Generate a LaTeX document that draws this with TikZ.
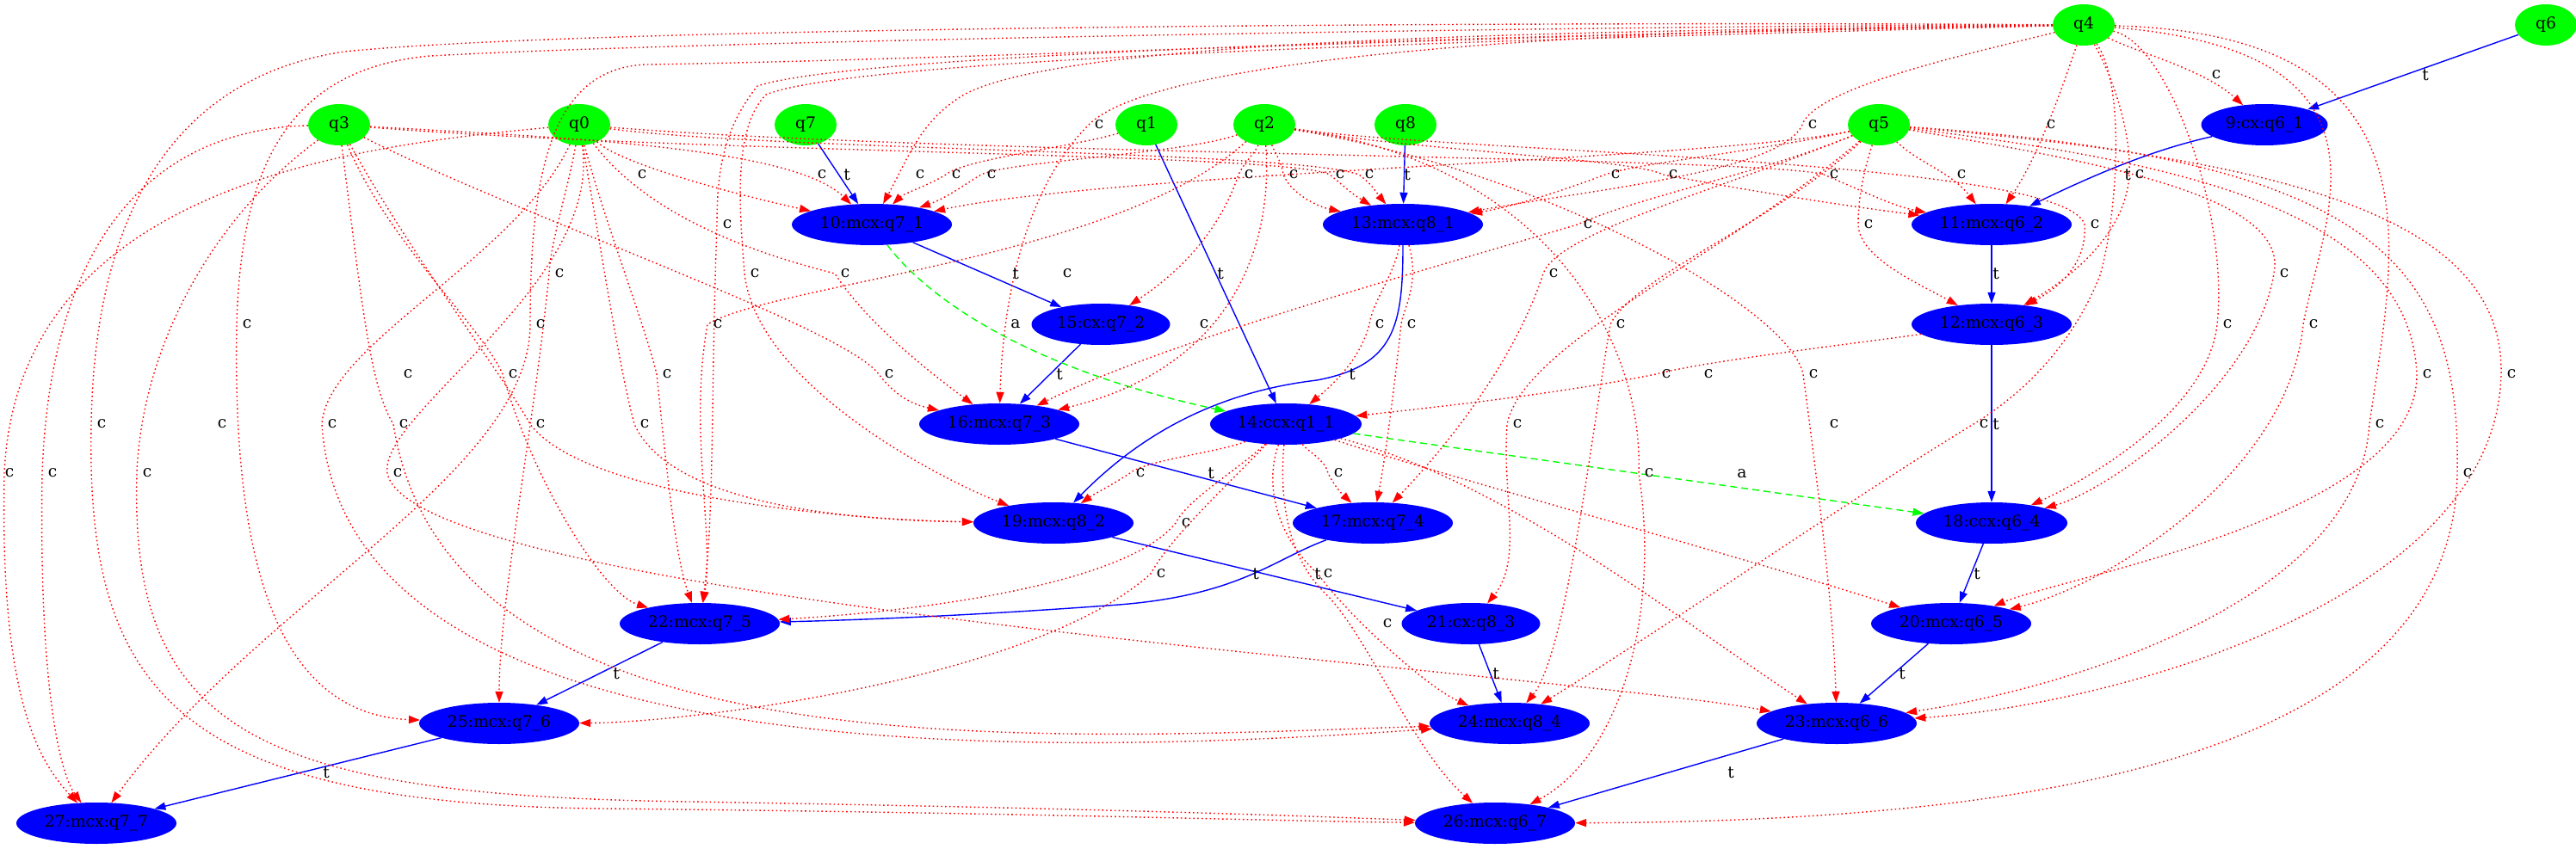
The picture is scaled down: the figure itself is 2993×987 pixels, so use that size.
\documentclass[tikz,border=0pt]{standalone}
\usepackage{fontspec}
\setmainfont{DejaVu Serif}
\usetikzlibrary{shapes.geometric,arrows.meta}
\begin{document}
\begin{tikzpicture}[x=1pt,y=1pt,
  lbl/.style={font=\fontsize{18.67}{22}\selectfont, inner sep=0pt},
  gnode/.style={ellipse, fill=green, draw=none, minimum width=72pt, minimum height=48pt, inner sep=0pt, font=\fontsize{18.67}{22}\selectfont},
  bnode/.style={ellipse, fill=blue, draw=none, minimum height=48pt, inner sep=0pt, font=\fontsize{18.67}{22}\selectfont},
  ce/.style={red, line width=1.4pt, dash pattern=on 1.6pt off 3.2pt, -{Triangle[length=13pt,width=9pt]}},
  te/.style={blue, line width=1.4pt, -{Triangle[length=13pt,width=9pt]}},
  ae/.style={green, line width=1.4pt, dash pattern=on 8pt off 5pt, -{Triangle[length=13pt,width=9pt]}}]
\useasboundingbox (0,0) rectangle (2993,-987);
% nodes
\node[gnode] (q4) at (2421,-29) {q4};
\node[gnode] (q6) at (2958,-29) {q6};
\node[gnode] (q3) at (394,-145) {q3};
\node[gnode] (q0) at (673,-145) {q0};
\node[gnode] (q7) at (936,-145) {q7};
\node[gnode] (q1) at (1332,-145) {q1};
\node[gnode] (q2) at (1469,-145) {q2};
\node[gnode] (q8) at (1633,-145) {q8};
\node[gnode] (q5) at (2183,-145) {q5};
\node[bnode,minimum width=147pt] (n9) at (2631,-145) {9:cx:q6\_1};
\node[bnode,minimum width=186pt] (n10) at (1013,-261) {10:mcx:q7\_1};
\node[bnode,minimum width=186pt] (n13) at (1630,-261) {13:mcx:q8\_1};
\node[bnode,minimum width=186pt] (n11) at (2314,-261) {11:mcx:q6\_2};
\node[bnode,minimum width=161pt] (n15) at (1279,-377) {15:cx:q7\_2};
\node[bnode,minimum width=186pt] (n12) at (2314,-377) {12:mcx:q6\_3};
\node[bnode,minimum width=186pt] (n16) at (1161,-493) {16:mcx:q7\_3};
\node[bnode,minimum width=176pt] (n14) at (1494,-493) {14:ccx:q1\_1};
\node[bnode,minimum width=186pt] (n19) at (1224,-608) {19:mcx:q8\_2};
\node[bnode,minimum width=186pt] (n17) at (1595,-608) {17:mcx:q7\_4};
\node[bnode,minimum width=176pt] (n18) at (2314,-608) {18:ccx:q6\_4};
\node[bnode,minimum width=186pt] (n22) at (813,-725) {22:mcx:q7\_5};
\node[bnode,minimum width=161pt] (n21) at (1709,-725) {21:cx:q8\_3};
\node[bnode,minimum width=186pt] (n20) at (2267,-725) {20:mcx:q6\_5};
\node[bnode,minimum width=186pt] (n25) at (580,-841) {25:mcx:q7\_6};
\node[bnode,minimum width=186pt] (n24) at (1754,-841) {24:mcx:q8\_4};
\node[bnode,minimum width=186pt] (n23) at (2134,-841) {23:mcx:q6\_6};
\node[bnode,minimum width=186pt] (n27) at (112,-957) {27:mcx:q7\_7};
\node[bnode,minimum width=186pt] (n26) at (1737,-957) {26:mcx:q6\_7};
% target edges
\draw[te] (q6) -- (n9);
\draw[te] (n9) .. controls (2520,-170) and (2460,-190) .. (n11);
\draw[te] (n11) -- (n12);
\draw[te] (n12) -- (n18);
\draw[te] (n18) -- (n20);
\draw[te] (n20) -- (n23);
\draw[te] (n23) -- (n26);
\draw[te] (q7) -- (n10);
\draw[te] (n10) -- (n15);
\draw[te] (n15) -- (n16);
\draw[te] (n16) -- (n17);
\draw[te] (n17) .. controls (1480,-650) and (1440,-692) .. (1300,-703) .. controls (1100,-718) and (950,-722) .. (n22);
\draw[te] (n22) -- (n25);
\draw[te] (n25) -- (n27);
\draw[te] (q8) -- (n13);
\draw[te] (n13) .. controls (1630,-380) and (1620,-425) .. (1530,-442) .. controls (1420,-455) and (1330,-500) .. (n19);
\draw[te] (n19) -- (n21);
\draw[te] (n21) -- (n24);
\draw[te] (q1) -- (n14);
% anti edges
\draw[ae] (n10) .. controls (1080,-350) and (1200,-430) .. (n14);
\draw[ae] (n14) -- (n18);
% control edges from q4
\draw[ce] (q4) .. controls (2480,-60) and (2560,-80) .. (n9);
\draw[ce] (q4) .. controls (1900,-36) and (1250,-40) .. (1120,-110) .. controls (1070,-140) and (1057,-180) .. (n10);
\draw[ce] (q4) .. controls (2400,-90) and (2370,-180) .. (n11);
\draw[ce] (q4) .. controls (2460,-100) and (2476,-160) .. (2474,-203) .. controls (2470,-270) and (2410,-320) .. (n12);
\draw[ce] (q4) .. controls (2300,-60) and (2110,-100) .. (2094,-145) .. controls (2070,-200) and (1850,-220) .. (n13);
\draw[ce] (q4) .. controls (1900,-32) and (1350,-60) .. (1265,-145) .. controls (1190,-220) and (1165,-350) .. (n16);
\draw[ce] (q4) .. controls (1800,-40) and (1000,-60) .. (880,-100) .. controls (840,-150) and (833,-200) .. (833,-261) .. controls (826,-450) and (830,-600) .. (n22);
\draw[ce] (q4) .. controls (1800,-45) and (1000,-65) .. (890,-110) .. controls (850,-150) and (860,-250) .. (865,-318) .. controls (880,-450) and (1100,-560) .. (n19);
\draw[ce] (q4) .. controls (2470,-100) and (2460,-250) .. (2440,-320) .. controls (2400,-420) and (2330,-470) .. (2293,-493) .. controls (2150,-580) and (1950,-720) .. (n24);
\draw[ce] (q4) .. controls (1800,-30) and (800,-48) .. (500,-65) .. controls (330,-80) and (280,-200) .. (275,-377) .. controls (270,-650) and (320,-830) .. (n25);
\draw[ce] (q4) .. controls (1800,-38) and (1100,-70) .. (750,-75) .. controls (640,-80) and (616,-200) .. (616,-377) .. controls (616,-550) and (300,-700) .. (n27);
\draw[ce] (q4) .. controls (1800,-25) and (700,-30) .. (400,-60) .. controls (200,-90) and (110,-250) .. (106,-493) .. controls (100,-800) and (200,-935) .. (700,-940) .. controls (1200,-945) and (1500,-955) .. (n26);
\draw[ce] (q4) .. controls (2520,-50) and (2590,-250) .. (2576,-377) .. controls (2565,-480) and (2420,-560) .. (n18);
\draw[ce] (q4) .. controls (2800,-60) and (2700,-250) .. (2676,-377) .. controls (2660,-550) and (2450,-680) .. (n20);
\draw[ce] (q4) .. controls (2850,-40) and (2780,-300) .. (2753,-493) .. controls (2740,-700) and (2400,-800) .. (n23);
% from q5
\draw[ce] (q5) .. controls (2000,-185) and (1300,-200) .. (n10);
\draw[ce] (q5) .. controls (2230,-190) and (2267,-200) .. (n11);
\draw[ce] (q5) .. controls (2165,-200) and (2159,-230) .. (2159,-261) .. controls (2160,-300) and (2230,-330) .. (n12);
\draw[ce] (q5) .. controls (2050,-175) and (1900,-190) .. (1865,-203) .. controls (1820,-220) and (1760,-240) .. (n13);
\draw[ce] (q5) .. controls (2050,-200) and (1900,-230) .. (1833,-261) .. controls (1600,-330) and (1350,-400) .. (n16);
\draw[ce] (q5) .. controls (2000,-220) and (1810,-270) .. (1793,-318) .. controls (1760,-420) and (1680,-520) .. (n17);
\draw[ce] (q5) .. controls (2450,-190) and (2660,-230) .. (2642,-318) .. controls (2620,-450) and (2450,-570) .. (n18);
\draw[ce] (q5) .. controls (2550,-190) and (2800,-250) .. (2808,-435) .. controls (2810,-600) and (2400,-670) .. (n20);
\draw[ce] (q5) .. controls (2650,-185) and (2910,-250) .. (2906,-435) .. controls (2900,-700) and (2450,-820) .. (n23);
\draw[ce] (q5) .. controls (2750,-185) and (2860,-300) .. (2855,-550) .. controls (2850,-900) and (2300,-955) .. (n26);
\draw[ce] (q5) .. controls (2000,-300) and (1770,-400) .. (1751,-493) .. controls (1745,-580) and (1770,-650) .. (n21);
\draw[ce] (q5) .. controls (2060,-260) and (1900,-320) .. (1871,-377) .. controls (1850,-500) and (1820,-760) .. (n24);
% from q3
\draw[ce] (q3) .. controls (650,-160) and (920,-170) .. (n10);
\draw[ce] (q3) .. controls (800,-178) and (1500,-178) .. (1545,-203) .. controls (1560,-215) and (1570,-225) .. (n13);
\draw[ce] (q3) .. controls (600,-250) and (980,-380) .. (1021,-435) .. controls (1040,-460) and (1060,-470) .. (n16);
\draw[ce] (q3) .. controls (480,-300) and (580,-430) .. (616,-493) .. controls (680,-580) and (1000,-605) .. (n19);
\draw[ce] (q3) .. controls (450,-280) and (560,-380) .. (584,-435) .. controls (620,-560) and (700,-690) .. (n22);
\draw[ce] (q3) .. controls (200,-150) and (60,-250) .. (49,-550) .. controls (45,-800) and (70,-900) .. (n27);
\draw[ce] (q3) .. controls (250,-250) and (165,-400) .. (159,-550) .. controls (150,-850) and (300,-925) .. (800,-932) .. controls (1300,-940) and (1550,-950) .. (n26);
\draw[ce] (q3) .. controls (420,-350) and (430,-450) .. (457,-493) .. controls (520,-900) and (1200,-860) .. (n24);
% from q0
\draw[ce] (q0) .. controls (720,-190) and (850,-225) .. (n10);
\draw[ce] (q0) .. controls (900,-175) and (1500,-175) .. (1579,-203) .. controls (1595,-215) and (1600,-225) .. (n13);
\draw[ce] (q0) .. controls (1100,-180) and (2050,-182) .. (2119,-203) .. controls (2160,-220) and (2200,-240) .. (n11);
\draw[ce] (q0) .. controls (760,-260) and (900,-300) .. (970,-318) .. controls (1010,-380) and (1090,-440) .. (n16);
\draw[ce] (q0) .. controls (700,-300) and (720,-430) .. (737,-493) .. controls (780,-590) and (1000,-605) .. (n19);
\draw[ce] (q0) .. controls (700,-250) and (750,-380) .. (763,-435) .. controls (775,-550) and (785,-650) .. (n22);
\draw[ce] (q0) .. controls (660,-220) and (640,-280) .. (638,-318) .. controls (620,-500) and (580,-700) .. (n25);
\draw[ce] (q0) .. controls (400,-170) and (20,-220) .. (5,-550) .. controls (0,-800) and (40,-880) .. (n27);
\draw[ce] (q0) .. controls (700,-330) and (440,-480) .. (450,-550) .. controls (480,-700) and (1800,-780) .. (n23);
\draw[ce] (q0) .. controls (600,-300) and (380,-400) .. (374,-493) .. controls (400,-900) and (1200,-880) .. (n24);
% from q1, q2
\draw[ce] (q1) .. controls (1250,-170) and (1120,-185) .. (1099,-203) .. controls (1080,-215) and (1050,-225) .. (n10);
\draw[ce] (q2) .. controls (1380,-178) and (1170,-188) .. (1140,-203) .. controls (1120,-215) and (1100,-230) .. (n10);
\draw[ce] (q2) .. controls (1480,-175) and (1490,-190) .. (1491,-203) .. controls (1500,-225) and (1530,-240) .. (n13);
\draw[ce] (q2) .. controls (1650,-175) and (1900,-185) .. (1932,-203) .. controls (2050,-225) and (2150,-240) .. (n11);
\draw[ce] (q2) .. controls (1460,-175) and (1445,-190) .. (1439,-203) .. controls (1420,-260) and (1380,-310) .. (n15);
\draw[ce] (q2) .. controls (1700,-178) and (2400,-185) .. (2422,-261) .. controls (2425,-300) and (2400,-330) .. (n12);
\draw[ce] (q2) .. controls (1480,-300) and (1420,-430) .. (n16);
\draw[ce] (q2) .. controls (1300,-300) and (900,-330) .. (822,-377) .. controls (800,-500) and (830,-620) .. (n22);
\draw[ce] (q2) .. controls (1800,-190) and (1910,-400) .. (1904,-550) .. controls (1930,-720) and (1880,-880) .. (n26);
\draw[ce] (q2) .. controls (1800,-200) and (2080,-360) .. (2095,-435) .. controls (2110,-550) and (2130,-700) .. (n23);
% from gate nodes
\draw[ce] (n13) .. controls (1620,-320) and (1595,-350) .. (1591,-377) .. controls (1580,-420) and (1545,-450) .. (n14);
\draw[ce] (n12) .. controls (2150,-400) and (1980,-420) .. (1924,-435) .. controls (1800,-460) and (1650,-475) .. (n14);
\draw[ce] (n13) .. controls (1650,-330) and (1630,-360) .. (1628,-377) .. controls (1620,-450) and (1610,-530) .. (n17);
\draw[ce] (n14) .. controls (1420,-525) and (1330,-535) .. (1313,-550) .. controls (1290,-565) and (1270,-575) .. (n19);
\draw[ce] (n14) .. controls (1520,-525) and (1540,-535) .. (1543,-550) .. controls (1550,-565) and (1560,-575) .. (n17);
\draw[ce] (n14) .. controls (1440,-545) and (1380,-580) .. (1366,-608) .. controls (1300,-690) and (1000,-715) .. (n22);
\draw[ce] (n14) .. controls (1420,-570) and (1360,-625) .. (1337,-667) .. controls (1200,-790) and (800,-840) .. (n25);
\draw[ce] (n14) .. controls (1470,-560) and (1480,-620) .. (1531,-667) .. controls (1570,-720) and (1660,-800) .. (n24);
\draw[ce] (n14) .. controls (1488,-560) and (1488,-640) .. (1540,-690) .. controls (1590,-740) and (1640,-870) .. (n26);
\draw[ce] (n14) .. controls (1700,-560) and (2000,-640) .. (n20);
\draw[ce] (n14) .. controls (1750,-560) and (1950,-720) .. (n23);
% labels
\foreach \x/\y in {2575/87, 1277/145, 2106/145, 2383/145,
  746/203, 955/203, 1069/203, 1111/203, 1152/203, 1451/203, 1503/203, 1557/203, 1591/203, 1877/203, 1944/203, 2131/203, 2279/203, 2486/203,
  845/261, 1845/261, 2171/261, 2434/261,
  650/318, 877/318, 982/318, 1240/318, 1805/318, 2654/318,
  287/377, 628/377, 834/377, 1399/377, 1603/377, 1640/377, 1883/377, 2588/377, 2688/377,
  474/435, 596/435, 775/435, 1033/435, 1936/435, 1985/435, 2107/435, 2820/435, 2918/435,
  118/493, 258/493, 386/493, 469/493, 628/493, 749/493, 1763/493, 2131/493, 2305/493, 2765/493,
  11/550, 61/550, 171/550, 462/550, 1325/550, 1555/550, 1916/550, 2867/550,
  1378/608, 1349/667, 1543/667, 1612/725}
  \node[lbl] (c-\x-\y) at (\x,-\y) {c};
\foreach \x/\y in {2818/87, 2472/203, 984/203, 1635/203, 2319/318, 1180/318, 1418/318, 1231/435, 1571/435, 2319/493, 1407/550, 1459/667, 1531/667, 2297/667, 716/783, 1738/783, 2210/783, 379/898, 2011/898}
  \node[lbl] (t-\x-\y) at (\x,-\y) {t};
\node[lbl] (a1) at (1180,-377) {a};
\node[lbl] (a2) at (2024,-551) {a};
\end{tikzpicture}
\end{document}
